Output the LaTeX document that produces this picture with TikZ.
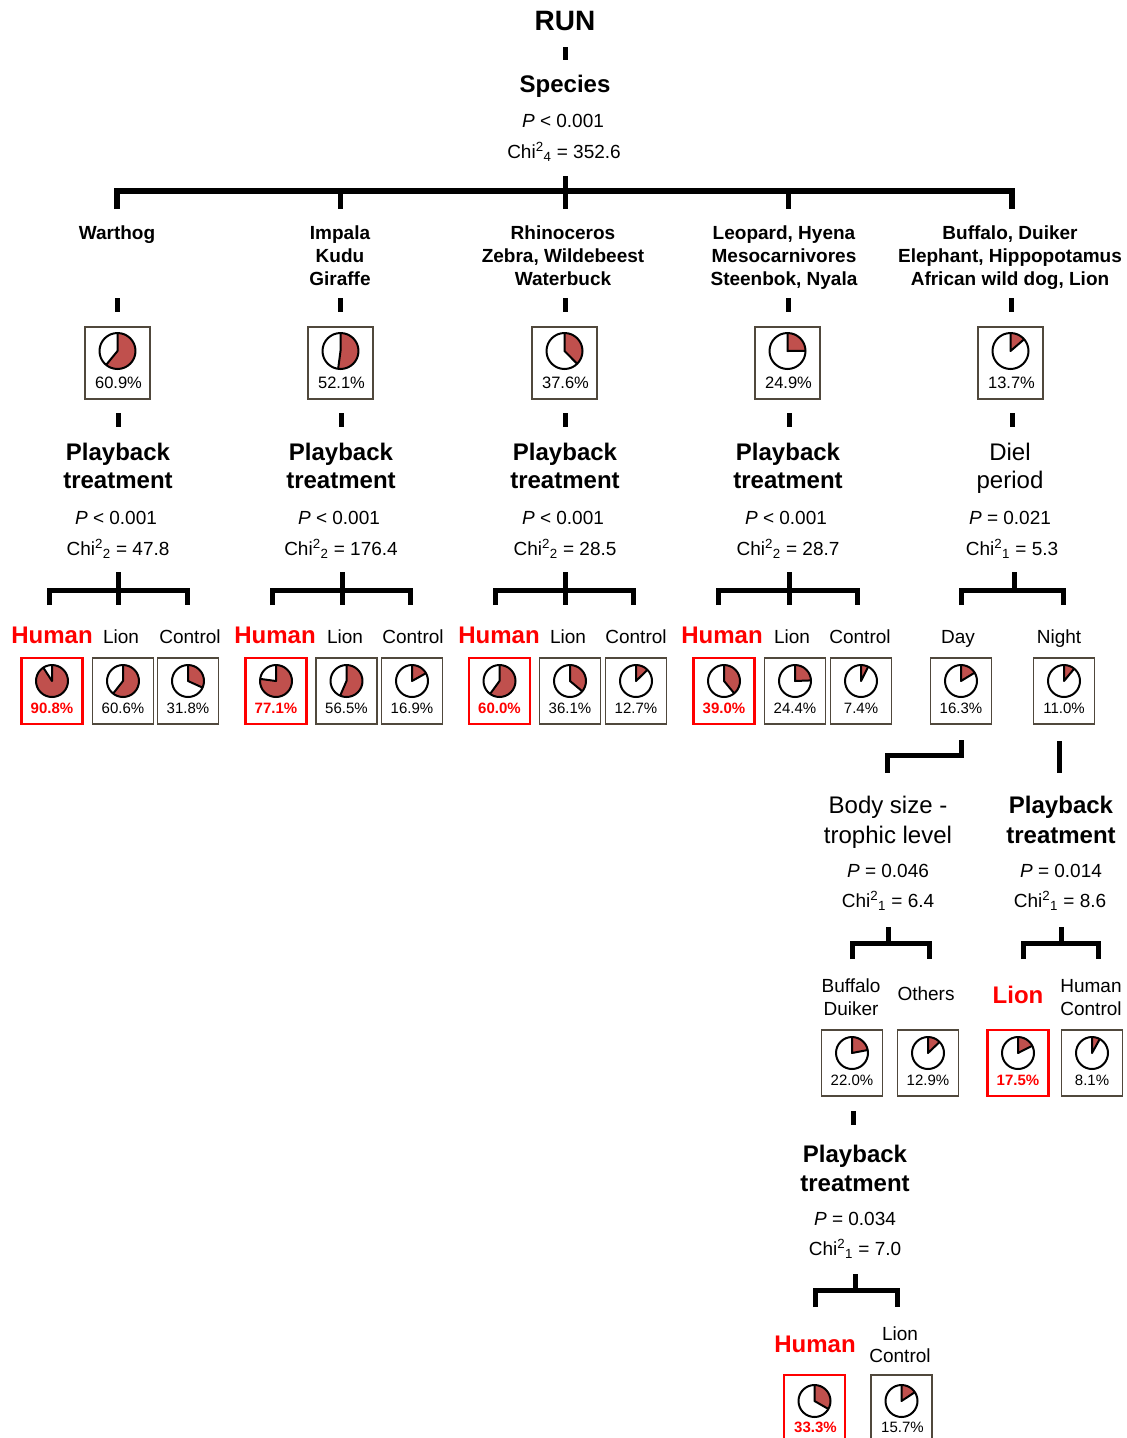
\documentclass[tikz,border=0pt]{standalone}
\usepackage{fontspec}
\setmainfont{Liberation Sans}
\usetikzlibrary{calc}
\definecolor{boxc}{RGB}{80,72,60}
\definecolor{piefill}{RGB}{192,80,77}
\definecolor{hred}{RGB}{255,0,0}
\tikzset{
  txt/.style={inner sep=0pt, anchor=base},
  ttl/.style={txt, font=\fontsize{28}{30}\selectfont\bfseries},
  hdr/.style={txt, font=\fontsize{24}{28}\selectfont\bfseries},
  hdrn/.style={txt, font=\fontsize{24}{28}\selectfont},
  stat/.style={txt, font=\fontsize{19}{22}\selectfont},
  splab/.style={txt, font=\fontsize{19}{23}\selectfont\bfseries},
  grp/.style={txt, font=\fontsize{19}{23}\selectfont},
  redlab/.style={txt, font=\fontsize{24}{28}\selectfont\bfseries, text=hred},
  bigbox/.style={draw=boxc, line width=1.5pt, minimum width=65pt, minimum height=72pt, inner sep=0pt},
  smallbox/.style={draw=boxc, line width=1.5pt, minimum width=61pt, minimum height=66pt, inner sep=0pt},
  redbox/.style={draw=hred, line width=2.4pt},
  pct/.style={txt, font=\fontsize{16.5}{18}\selectfont},
  spct/.style={txt, font=\fontsize{15}{17}\selectfont},
  rpct/.style={txt, text=hred, font=\fontsize{15}{17}\selectfont\bfseries},
  stem/.style={line width=5pt},
  brk/.style={line width=5pt, line join=miter},
  pieline/.style={line width=2pt, line join=round, draw=black},
}
\newcommand\mypie[3]{%
  \fill[piefill] #1 -- ++(-90:#2) arc[start angle=-90, end angle={-90+3.6*#3}, radius=#2] -- cycle;
  \draw[pieline] #1 circle[radius=#2];
  \draw[pieline] #1 ++(-90:#2) -- #1 -- ++({-90+3.6*#3}:#2);
}
\newcommand\pbox[6]{%
  \node[smallbox,#5] (#1) at (#2,#3) {};
  \mypie{($(#1)+(0,-10)$)}{16}{#4}
  \node[#6] (#1t) at ($(#1)+(0,22)$) {#4\%};
}
\newcommand\bpbox[3]{%
  \node[bigbox] (#1) at (#2,363) {};
  \mypie{($(#1)+(0,-12)$)}{18}{#3}
  \node[pct] (#1t) at ($(#1)+(1,25)$) {#3\%};
}
\begin{document}
\begin{tikzpicture}[x=1pt,y=-1pt]
\useasboundingbox (0,0) rectangle (1127,1438);
\clip (0,0) rectangle (1127,1438);
\fill[white] (0,0) rectangle (1127,1438);

% ---- top
\node[ttl] (run) at (565,30) {RUN};
\draw[stem] (565,47) -- (565,60);
\node[hdr] (sp) at (565,92) {Species};
\node[stat] (spP) at (563,127) {\textit{P} < 0.001};
\node[stat] (spC) at (564,158) {Chi\textsuperscript{2}\textsubscript{4} = 352.6};
\draw[stem] (565,176) -- (565,191);
\draw[brk, line width=6pt] (117,209) -- (117,191) -- (1012,191) -- (1012,209);
\foreach \x in {340,565,788} \draw[stem] (\x,191) -- (\x,209);

% ---- species labels
\node[splab] (c1a) at (117,239) {Warthog};
\node[splab] (c2a) at (340,239) {Impala};
\node[splab] (c2b) at (340,262) {Kudu};
\node[splab] (c2c) at (340,285) {Giraffe};
\node[splab] (c3a) at (563,239) {Rhinoceros};
\node[splab] (c3b) at (563,262) {Zebra, Wildebeest};
\node[splab] (c3c) at (563,285) {Waterbuck};
\node[splab] (c4a) at (784,239) {Leopard, Hyena};
\node[splab] (c4b) at (784,262) {Mesocarnivores};
\node[splab] (c4c) at (784,285) {Steenbok, Nyala};
\node[splab] (c5a) at (1010,239) {Buffalo, Duiker};
\node[splab] (c5b) at (1010,262) {Elephant, Hippopotamus};
\node[splab] (c5c) at (1010,285) {African wild dog, Lion};
\foreach \x in {117,340,565,788,1011} \draw[stem] (\x,298) -- (\x,312);

% ---- big boxes
\bpbox{B1}{117.5}{60.9}
\bpbox{B2}{340.5}{52.1}
\bpbox{B3}{564.5}{37.6}
\bpbox{B4}{787.5}{24.9}
\bpbox{B5}{1010.5}{13.7}
\foreach \x in {118,341,565,789,1012} \draw[stem] (\x,413) -- (\x,427);

% ---- level 2 headers
\node[hdr] (h1a) at (118,460) {Playback};
\node[hdr] (h1b) at (118,488) {treatment};
\node[hdr] (h2a) at (341,460) {Playback};
\node[hdr] (h2b) at (341,488) {treatment};
\node[hdr] (h3a) at (565,460) {Playback};
\node[hdr] (h3b) at (565,488) {treatment};
\node[hdr] (h4a) at (788,460) {Playback};
\node[hdr] (h4b) at (788,488) {treatment};
\node[hdrn] (h5a) at (1010,460) {Diel};
\node[hdrn] (h5b) at (1010,488) {period};
\node[stat] (s1P) at (116,524) {\textit{P} < 0.001};
\node[stat] (s1C) at (118,555) {Chi\textsuperscript{2}\textsubscript{2} = 47.8};
\node[stat] (s2P) at (339,524) {\textit{P} < 0.001};
\node[stat] (s2C) at (341,555) {Chi\textsuperscript{2}\textsubscript{2} = 176.4};
\node[stat] (s3P) at (563,524) {\textit{P} < 0.001};
\node[stat] (s3C) at (565,555) {Chi\textsuperscript{2}\textsubscript{2} = 28.5};
\node[stat] (s4P) at (786,524) {\textit{P} < 0.001};
\node[stat] (s4C) at (788,555) {Chi\textsuperscript{2}\textsubscript{2} = 28.7};
\node[stat] (s5P) at (1010,524) {\textit{P} = 0.021};
\node[stat] (s5C) at (1012,555) {Chi\textsuperscript{2}\textsubscript{1} = 5.3};

% ---- level 2 brackets
\foreach \l/\m/\r in {49/118/187, 272/342/410, 495/565/633, 718/789/857} {
  \draw[brk] (\l,605) -- (\l,590) -- (\r,590) -- (\r,605);
  \draw[stem] (\m,572) -- (\m,605);
}
\draw[brk] (961,605) -- (961,590) -- (1063,590) -- (1063,605);
\draw[stem] (1014,572) -- (1014,590);

% ---- level 2 labels
\node[redlab] (g1h) at (52,643) {Human};
\node[grp] (g1l) at (121,643) {Lion};
\node[grp] (g1c) at (190,643) {Control};
\node[redlab] (g2h) at (275,643) {Human};
\node[grp] (g2l) at (345,643) {Lion};
\node[grp] (g2c) at (413,643) {Control};
\node[redlab] (g3h) at (499,643) {Human};
\node[grp] (g3l) at (568,643) {Lion};
\node[grp] (g3c) at (636,643) {Control};
\node[redlab] (g4h) at (722,643) {Human};
\node[grp] (g4l) at (792,643) {Lion};
\node[grp] (g4c) at (860,643) {Control};
\node[grp] (g5d) at (958,643) {Day};
\node[grp] (g5n) at (1059,643) {Night};

% ---- level 2 boxes
\pbox{P1h}{52}{691}{90.8}{redbox}{rpct}
\pbox{P1l}{123}{691}{60.6}{}{spct}
\pbox{P1c}{188}{691}{31.8}{}{spct}
\pbox{P2h}{276}{691}{77.1}{redbox}{rpct}
\pbox{P2l}{346.5}{691}{56.5}{}{spct}
\pbox{P2c}{412}{691}{16.9}{}{spct}
\pbox{P3h}{499.5}{691}{60.0}{redbox}{rpct}
\pbox{P3l}{570}{691}{36.1}{}{spct}
\pbox{P3c}{636}{691}{12.7}{}{spct}
\pbox{P4h}{724}{691}{39.0}{redbox}{rpct}
\pbox{P4l}{795}{691}{24.4}{}{spct}
\pbox{P4c}{861}{691}{7.4}{}{spct}
\pbox{P5d}{961}{691}{16.3}{}{spct}
\pbox{P5n}{1064}{691}{11.0}{}{spct}

% ---- below day / night
\draw[brk] (961,740) -- (961,755) -- (887,755) -- (887,773);
\draw[stem] (1059,741) -- (1059,773);

\node[hdrn] (d1a) at (888,813) {Body size -};
\node[hdrn] (d1b) at (888,843) {trophic level};
\node[stat] (d1P) at (888,877) {\textit{P} = 0.046};
\node[stat] (d1C) at (888,907) {Chi\textsuperscript{2}\textsubscript{1} = 6.4};
\node[hdr] (n1a) at (1061,813) {Playback};
\node[hdr] (n1b) at (1061,843) {treatment};
\node[stat] (n1P) at (1061,877) {\textit{P} = 0.014};
\node[stat] (n1C) at (1060,907) {Chi\textsuperscript{2}\textsubscript{1} = 8.6};

\draw[brk] (852,959) -- (852,943.5) -- (929,943.5) -- (929,959);
\draw[stem] (888,927) -- (888,943.5);
\draw[brk] (1023,959) -- (1023,943.5) -- (1098,943.5) -- (1098,959);
\draw[stem] (1061,927) -- (1061,943.5);

\node[grp] (l3a) at (851,992) {Buffalo};
\node[grp] (l3b) at (851,1015) {Duiker};
\node[grp] (l3o) at (926,1000) {Others};
\node[redlab] (l3l) at (1018,1003) {Lion};
\node[grp] (l3h) at (1091,992) {Human};
\node[grp] (l3c) at (1091,1015) {Control};

\pbox{Q1}{852}{1063}{22.0}{}{spct}
\pbox{Q2}{928}{1063}{12.9}{}{spct}
\pbox{Q3}{1018}{1063}{17.5}{redbox}{rpct}
\pbox{Q4}{1092}{1063}{8.1}{}{spct}

% ---- bottom branch
\draw[stem] (853,1111) -- (853,1125);
\node[hdr] (e1a) at (855,1162) {Playback};
\node[hdr] (e1b) at (855,1191) {treatment};
\node[stat] (e1P) at (855,1225) {\textit{P} = 0.034};
\node[stat] (e1C) at (855,1255) {Chi\textsuperscript{2}\textsubscript{1} = 7.0};
\draw[brk] (815,1307) -- (815,1290) -- (897,1290) -- (897,1307);
\draw[stem] (855,1274) -- (855,1290);
\node[redlab] (e1h) at (815,1352) {Human};
\node[grp] (e1l) at (900,1340) {Lion};
\node[grp] (e1c) at (900,1362) {Control};

\node[smallbox,redbox] (R1) at (814.5,1408) {};
\mypie{($(R1)+(0,-7)$)}{16}{33.3}
\node[rpct] (R1t) at ($(R1)+(1,24)$) {33.3\%};
\node[smallbox] (R2) at (901.5,1408) {};
\mypie{($(R2)+(0,-7)$)}{16}{15.7}
\node[spct] (R2t) at ($(R2)+(1,24)$) {15.7\%};
\end{tikzpicture}
\end{document}
